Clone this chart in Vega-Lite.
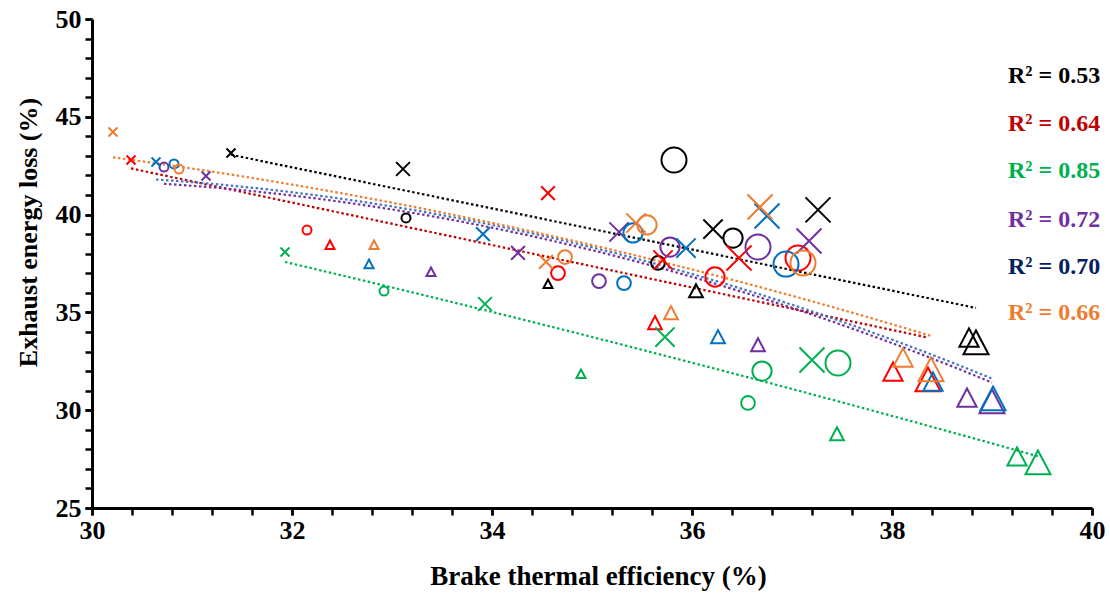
{
  "$schema": "https://vega.github.io/schema/vega-lite/v6.json",
  "width": 1000,
  "height": 489,
  "autosize": {"type": "none"},
  "padding": {"left": 92, "top": 19, "right": 18, "bottom": 86},
  "background": "white",
  "config": {
    "view": {"stroke": null},
    "axis": {
      "grid": false,
      "domainColor": "black",
      "domainWidth": 3,
      "tickColor": "black",
      "tickWidth": 2.5,
      "tickSize": 7,
      "labelFont": "Liberation Serif",
      "labelFontWeight": "bold",
      "labelFontSize": 26,
      "labelColor": "black",
      "labelFlush": false,
      "titleFont": "Liberation Serif",
      "titleFontWeight": "bold",
      "titleColor": "black"
    }
  },
  "datasets": {
    "points": [
      {"series": "black", "marker": "x", "level": 1, "bte": 31.39, "eel": 43.15},
      {"series": "black", "marker": "x", "level": 2, "bte": 33.11, "eel": 42.33},
      {"series": "black", "marker": "x", "level": 3, "bte": 36.21, "eel": 39.26},
      {"series": "black", "marker": "x", "level": 4, "bte": 37.26, "eel": 40.24},
      {"series": "black", "marker": "circle", "level": 1, "bte": 33.14, "eel": 39.83},
      {"series": "black", "marker": "circle", "level": 2, "bte": 35.66, "eel": 37.53},
      {"series": "black", "marker": "circle", "level": 3, "bte": 36.41, "eel": 38.8},
      {"series": "black", "marker": "circle", "level": 4, "bte": 35.82, "eel": 42.79},
      {"series": "black", "marker": "triangle", "level": 1, "bte": 34.56, "eel": 36.45},
      {"series": "black", "marker": "triangle", "level": 2, "bte": 36.04, "eel": 36.09},
      {"series": "black", "marker": "triangle", "level": 3, "bte": 38.77, "eel": 33.69},
      {"series": "black", "marker": "triangle", "level": 4, "bte": 38.84, "eel": 33.44},

      {"series": "red", "marker": "x", "level": 1, "bte": 30.39, "eel": 42.79},
      {"series": "red", "marker": "x", "level": 2, "bte": 34.56, "eel": 41.1},
      {"series": "red", "marker": "x", "level": 3, "bte": 35.71, "eel": 37.68},
      {"series": "red", "marker": "x", "level": 4, "bte": 36.47, "eel": 37.78},
      {"series": "red", "marker": "circle", "level": 1, "bte": 32.15, "eel": 39.21},
      {"series": "red", "marker": "circle", "level": 2, "bte": 34.66, "eel": 37.01},
      {"series": "red", "marker": "circle", "level": 3, "bte": 36.23, "eel": 36.81},
      {"series": "red", "marker": "circle", "level": 4, "bte": 37.06, "eel": 37.78},
      {"series": "red", "marker": "triangle", "level": 1, "bte": 32.38, "eel": 38.45},
      {"series": "red", "marker": "triangle", "level": 2, "bte": 35.63, "eel": 34.46},
      {"series": "red", "marker": "triangle", "level": 3, "bte": 38.01, "eel": 31.95},
      {"series": "red", "marker": "triangle", "level": 4, "bte": 38.36, "eel": 31.54},

      {"series": "green", "marker": "x", "level": 1, "bte": 31.93, "eel": 38.09},
      {"series": "green", "marker": "x", "level": 2, "bte": 33.93, "eel": 35.43},
      {"series": "green", "marker": "x", "level": 3, "bte": 35.73, "eel": 33.74},
      {"series": "green", "marker": "x", "level": 4, "bte": 37.2, "eel": 32.57},
      {"series": "green", "marker": "circle", "level": 1, "bte": 32.92, "eel": 36.09},
      {"series": "green", "marker": "circle", "level": 2, "bte": 36.56, "eel": 30.37},
      {"series": "green", "marker": "circle", "level": 3, "bte": 36.7, "eel": 32.0},
      {"series": "green", "marker": "circle", "level": 4, "bte": 37.46, "eel": 32.41},
      {"series": "green", "marker": "triangle", "level": 1, "bte": 34.89, "eel": 31.85},
      {"series": "green", "marker": "triangle", "level": 2, "bte": 37.45, "eel": 28.78},
      {"series": "green", "marker": "triangle", "level": 3, "bte": 39.25, "eel": 27.61},
      {"series": "green", "marker": "triangle", "level": 4, "bte": 39.46, "eel": 27.3},

      {"series": "purple", "marker": "x", "level": 1, "bte": 31.14, "eel": 41.97},
      {"series": "purple", "marker": "x", "level": 2, "bte": 34.26, "eel": 38.04},
      {"series": "purple", "marker": "x", "level": 3, "bte": 35.27, "eel": 39.11},
      {"series": "purple", "marker": "x", "level": 4, "bte": 37.17, "eel": 38.65},
      {"series": "purple", "marker": "circle", "level": 1, "bte": 30.72, "eel": 42.43},
      {"series": "purple", "marker": "circle", "level": 2, "bte": 35.07, "eel": 36.6},
      {"series": "purple", "marker": "circle", "level": 3, "bte": 35.78, "eel": 38.34},
      {"series": "purple", "marker": "circle", "level": 4, "bte": 36.66, "eel": 38.34},
      {"series": "purple", "marker": "triangle", "level": 1, "bte": 33.39, "eel": 37.07},
      {"series": "purple", "marker": "triangle", "level": 2, "bte": 36.66, "eel": 33.33},
      {"series": "purple", "marker": "triangle", "level": 3, "bte": 38.75, "eel": 30.62},
      {"series": "purple", "marker": "triangle", "level": 4, "bte": 39.0, "eel": 30.42},

      {"series": "blue", "marker": "x", "level": 1, "bte": 30.64, "eel": 42.69},
      {"series": "blue", "marker": "x", "level": 2, "bte": 33.91, "eel": 39.0},
      {"series": "blue", "marker": "x", "level": 3, "bte": 35.94, "eel": 38.29},
      {"series": "blue", "marker": "x", "level": 4, "bte": 36.75, "eel": 39.93},
      {"series": "blue", "marker": "circle", "level": 1, "bte": 30.82, "eel": 42.59},
      {"series": "blue", "marker": "circle", "level": 2, "bte": 35.32, "eel": 36.5},
      {"series": "blue", "marker": "circle", "level": 3, "bte": 35.41, "eel": 39.06},
      {"series": "blue", "marker": "circle", "level": 4, "bte": 36.94, "eel": 37.47},
      {"series": "blue", "marker": "triangle", "level": 1, "bte": 32.77, "eel": 37.47},
      {"series": "blue", "marker": "triangle", "level": 2, "bte": 36.26, "eel": 33.74},
      {"series": "blue", "marker": "triangle", "level": 3, "bte": 38.41, "eel": 31.44},
      {"series": "blue", "marker": "triangle", "level": 4, "bte": 39.01, "eel": 30.57},

      {"series": "orange", "marker": "x", "level": 1, "bte": 30.21, "eel": 44.22},
      {"series": "orange", "marker": "x", "level": 2, "bte": 34.54, "eel": 37.58},
      {"series": "orange", "marker": "x", "level": 3, "bte": 35.44, "eel": 39.57},
      {"series": "orange", "marker": "x", "level": 4, "bte": 36.68, "eel": 40.39},
      {"series": "orange", "marker": "circle", "level": 1, "bte": 30.87, "eel": 42.33},
      {"series": "orange", "marker": "circle", "level": 2, "bte": 34.73, "eel": 37.83},
      {"series": "orange", "marker": "circle", "level": 3, "bte": 35.55, "eel": 39.47},
      {"series": "orange", "marker": "circle", "level": 4, "bte": 37.11, "eel": 37.53},
      {"series": "orange", "marker": "triangle", "level": 1, "bte": 32.82, "eel": 38.45},
      {"series": "orange", "marker": "triangle", "level": 2, "bte": 35.79, "eel": 34.97},
      {"series": "orange", "marker": "triangle", "level": 3, "bte": 38.11, "eel": 32.67},
      {"series": "orange", "marker": "triangle", "level": 4, "bte": 38.39, "eel": 32.06}
    ],
    "labels": [
      {"series": "black", "text": "R² = 0.53", "bte": 39.16, "eel": 47.1},
      {"series": "red", "text": "R² = 0.64", "bte": 39.16, "eel": 44.63},
      {"series": "green", "text": "R² = 0.85", "bte": 39.16, "eel": 42.23},
      {"series": "purple", "text": "R² = 0.72", "bte": 39.16, "eel": 39.72},
      {"series": "blue", "text": "R² = 0.70", "bte": 39.16, "eel": 37.32},
      {"series": "orange", "text": "R² = 0.66", "bte": 39.16, "eel": 34.97}
    ]
  },
  "layer": [
    {
      "data": {"name": "points"},
      "transform": [
        {"filter": {"field": "series", "oneOf": ["black", "red"]}},
        {"regression": "eel", "on": "bte", "groupby": ["series"], "method": "linear"}
      ],
      "mark": {"type": "line", "strokeWidth": 2.2, "strokeDash": [2.5, 2.5]},
      "encoding": {
        "x": {
          "field": "bte", "type": "quantitative",
          "scale": {"domain": [30, 40], "zero": false, "nice": false},
          "axis": {
            "orient": "bottom",
            "title": "Brake thermal efficiency (%)",
            "titleFontSize": 27,
            "titleX": 506,
            "values": [30, 32, 34, 36, 38, 40],
            "format": "d",
            "labelOverlap": false,
            "labelPadding": 2,
            "titlePadding": 20
          }
        },
        "y": {
          "field": "eel", "type": "quantitative",
          "scale": {"domain": [25, 50], "zero": false, "nice": false},
          "axis": {
            "orient": "left",
            "title": "Exhaust energy loss (%)",
            "titleFontSize": 26,
            "titleY": 213,
            "values": [25, 30, 35, 40, 45, 50],
            "format": "d",
            "labelOverlap": false,
            "labelPadding": 4,
            "titlePadding": 14
          }
        },
        "color": {
          "field": "series", "type": "nominal", "legend": null,
          "scale": {
            "domain": ["black", "red", "green", "purple", "blue", "orange"],
            "range": ["#000000", "#C00000", "#00B050", "#7030A0", "#4472C4", "#ED7D31"]
          }
        },
        "detail": {"field": "series"}
      }
    },
    {
      "data": {"name": "points"},
      "transform": [
        {"filter": {"field": "series", "oneOf": ["green", "purple", "blue", "orange"]}},
        {"regression": "eel", "on": "bte", "groupby": ["series"], "method": "poly", "order": 2}
      ],
      "mark": {"type": "line", "strokeWidth": 2.2, "strokeDash": [2.5, 2.5]},
      "encoding": {
        "x": {
          "field": "bte", "type": "quantitative",
          "axis": {
            "orient": "bottom",
            "title": null,
            "labels": false,
            "domain": false,
            "values": [30, 30.4, 30.8, 31.2, 31.6, 32, 32.4, 32.8, 33.2, 33.6, 34, 34.4, 34.8, 35.2, 35.6, 36, 36.4, 36.8, 37.2, 37.6, 38, 38.4, 38.8, 39.2, 39.6, 40]
          }
        },
        "y": {
          "field": "eel", "type": "quantitative",
          "axis": {
            "orient": "left",
            "title": null,
            "labels": false,
            "domain": false,
            "values": [25, 26, 27, 28, 29, 30, 31, 32, 33, 34, 35, 36, 37, 38, 39, 40, 41, 42, 43, 44, 45, 46, 47, 48, 49, 50]
          }
        },
        "color": {
          "field": "series", "type": "nominal", "legend": null,
          "scale": {
            "domain": ["black", "red", "green", "purple", "blue", "orange"],
            "range": ["#000000", "#C00000", "#00B050", "#7030A0", "#4472C4", "#ED7D31"]
          }
        },
        "detail": {"field": "series"}
      }
    },
    {
      "data": {"name": "points"},
      "mark": {"type": "point", "filled": false, "strokeWidth": 2, "opacity": 1},
      "encoding": {
        "x": {"field": "bte", "type": "quantitative", "axis": null},
        "y": {"field": "eel", "type": "quantitative", "axis": null},
        "color": {
          "field": "series", "type": "nominal", "legend": null,
          "scale": {
            "domain": ["black", "red", "green", "purple", "blue", "orange"],
            "range": ["#000000", "#FF0000", "#00B050", "#7030A0", "#0070C0", "#ED7D31"]
          }
        },
        "shape": {
          "field": "marker", "type": "nominal", "legend": null,
          "scale": {
            "domain": ["x", "circle", "triangle"],
            "range": ["M-1,-1L1,1M-1,1L1,-1", "circle", "M0,-1L1,0.9L-1,0.9Z"]
          }
        },
        "size": {
          "field": "level", "type": "quantitative", "legend": null,
          "scale": {"type": "pow", "exponent": 2, "domain": [1, 4], "range": [81, 625], "zero": false}
        }
      }
    },
    {
      "data": {"name": "labels"},
      "mark": {"type": "text", "align": "left", "baseline": "middle", "font": "Liberation Serif", "fontWeight": "bold", "fontSize": 24},
      "encoding": {
        "x": {"field": "bte", "type": "quantitative", "axis": null},
        "y": {"field": "eel", "type": "quantitative", "axis": null},
        "text": {"field": "text"},
        "color": {
          "field": "series", "type": "nominal", "legend": null,
          "scale": {
            "domain": ["black", "red", "green", "purple", "blue", "orange"],
            "range": ["#000000", "#C00000", "#00B050", "#7030A0", "#002060", "#ED7D31"]
          }
        }
      }
    }
  ],
  "resolve": {
    "scale": {"color": "independent"},
    "axis": {"x": "independent", "y": "independent"}
  }
}
